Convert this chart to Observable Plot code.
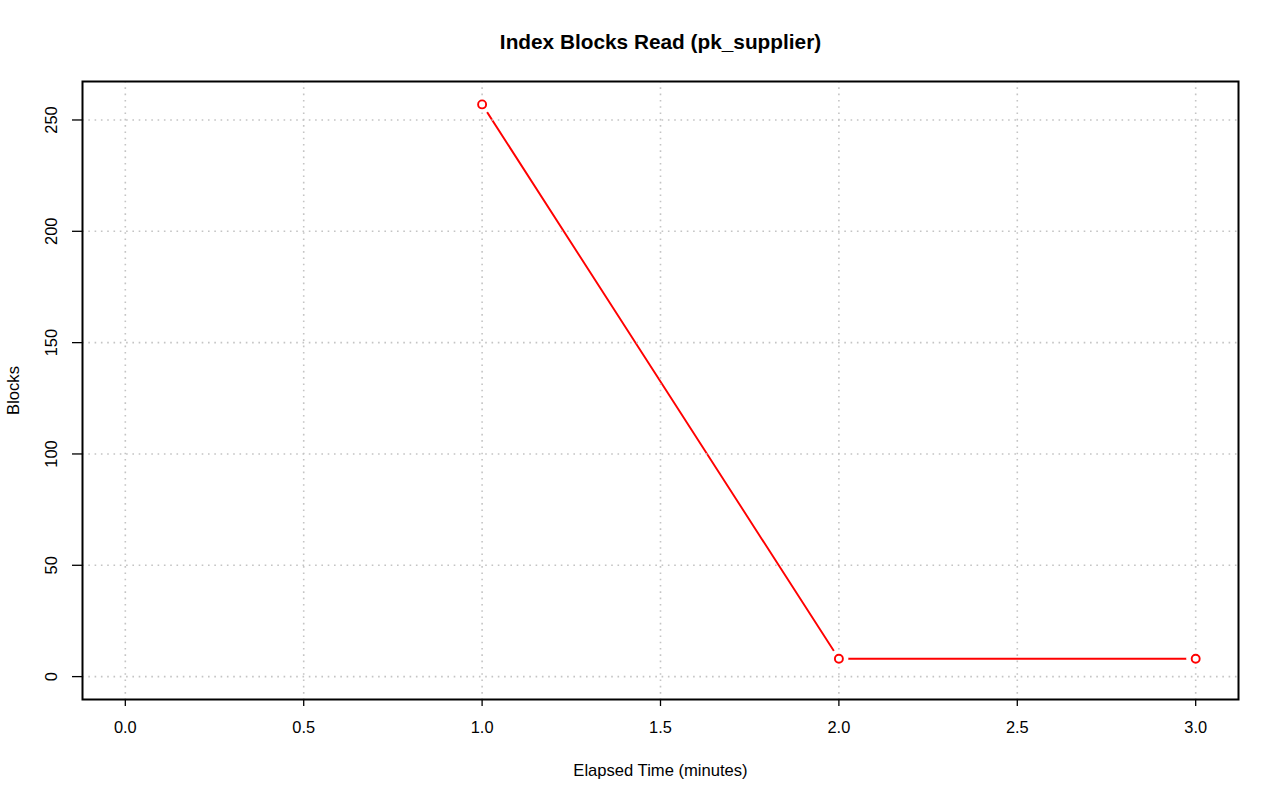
<!DOCTYPE html>
<html><head><meta charset="utf-8">
<script src="https://cdn.jsdelivr.net/npm/d3@7"></script>
<script src="https://cdn.jsdelivr.net/npm/@observablehq/plot@0.6"></script>
<style>html,body{margin:0;padding:0;background:#fff}</style>
</head><body><div id="chart"></div>
<script>
const minutes = [1, 2, 3];
const blocks = [257, 8, 8];
const xTicks = [0, 0.5, 1, 1.5, 2, 2.5, 3];
const yTicks = [0, 50, 100, 150, 200, 250];
const title = "Index Blocks Read (pk_supplier)";
const xLabel = "Elapsed Time (minutes)";
const yLabel = "Blocks";

const data = minutes.map((m, i) => ({minutes: m, blocks: blocks[i]}));
const xlim = [0, 3], ylim = [0, 257];
const ext = (l) => [l[0] - 0.04 * (l[1] - l[0]), l[1] + 0.04 * (l[1] - l[0])];

const font = "'Liberation Sans', Arial, Helvetica, sans-serif";
const grid = {stroke: "#C4C4C4", strokeWidth: 1.6, strokeDasharray: "1.6 4.7"};
const chart = Plot.plot({
  width: 1280,
  height: 801,
  marginLeft: 82,
  marginRight: 42,
  marginTop: 81,
  marginBottom: 102,
  style: {fontFamily: font, fontSize: "16px", background: "#fff", color: "black"},
  x: {domain: ext(xlim), label: null},
  y: {domain: ext(ylim), label: null},
  marks: [
    Plot.line(data, {x: "minutes", y: "blocks", stroke: "red", strokeWidth: 1.9}),
    Plot.dot(data, {x: "minutes", y: "blocks", r: 9.5, fill: "white", stroke: "none"}),
    Plot.ruleX(xTicks, grid),
    Plot.ruleY(yTicks, grid),
    Plot.dot(data, {x: "minutes", y: "blocks", r: 4, fill: "white", stroke: "red", strokeWidth: 1.9}),
    Plot.axisX(xTicks, {tickSize: 7, tickPadding: 15, tickFormat: d3.format(".1f"), fontSize: 16.4, label: null, strokeWidth: 1.3}),
    Plot.axisY(yTicks, {tickSize: 10, tickFormat: () => "", label: null, strokeWidth: 1.3}),
    Plot.text(yTicks, {y: d => d, text: d => String(d), frameAnchor: "left", dx: -31, rotate: -90, textAnchor: "middle", lineAnchor: "middle", fontSize: 16.4}),
    Plot.frame({stroke: "black", strokeWidth: 2}),
    Plot.text([title], {frameAnchor: "top", dy: -39, lineAnchor: "middle", fontWeight: "bold", fontSize: 20.8}),
    Plot.text([xLabel], {frameAnchor: "bottom", dy: 71, lineAnchor: "middle", fontSize: 16.6}),
    Plot.text([yLabel], {frameAnchor: "left", dx: -69, rotate: -90, textAnchor: "middle", lineAnchor: "middle", fontSize: 16.6})
  ]
});
document.getElementById("chart").appendChild(chart);
</script>
</body></html>
